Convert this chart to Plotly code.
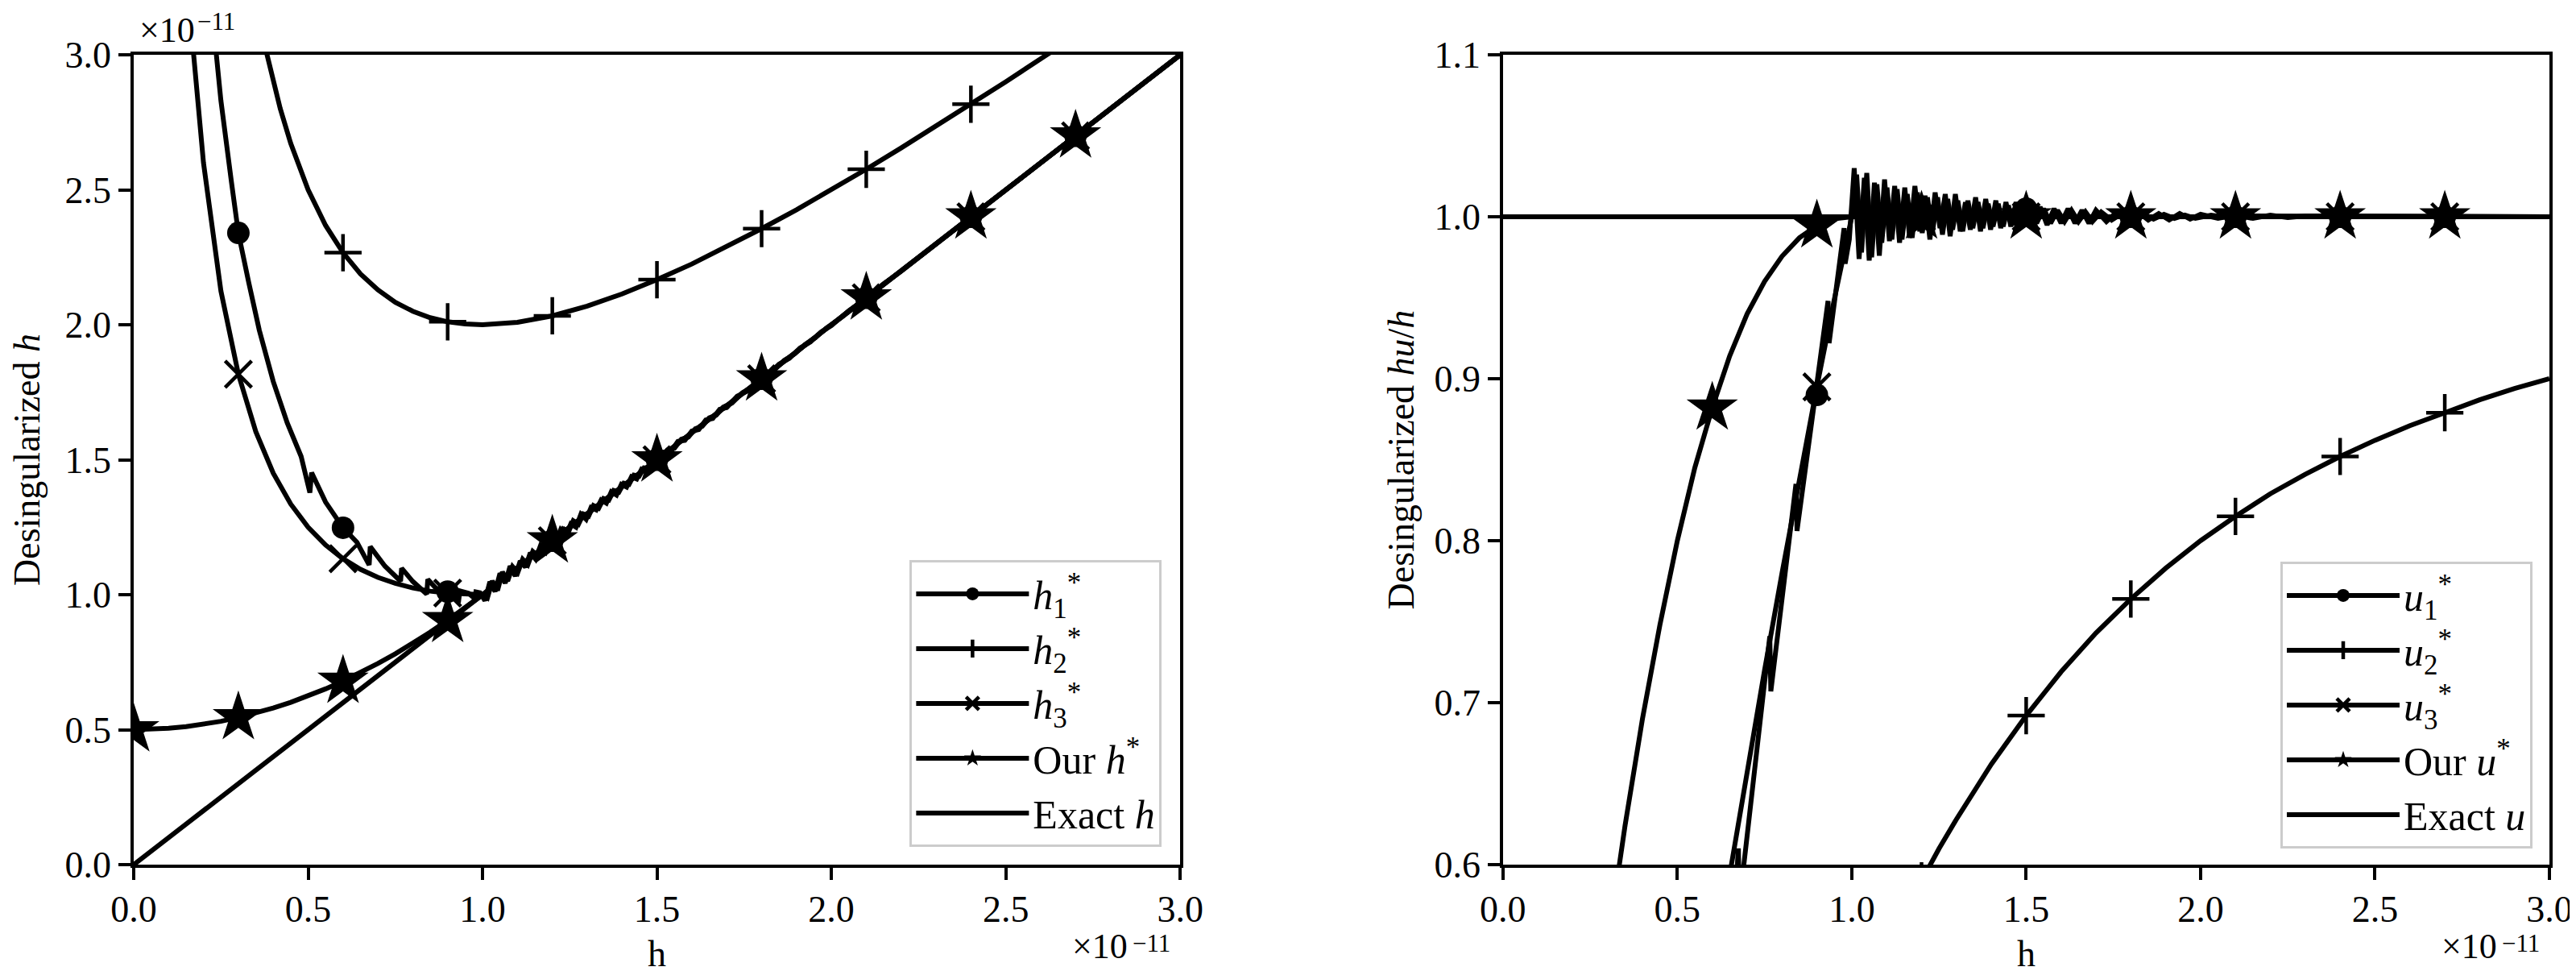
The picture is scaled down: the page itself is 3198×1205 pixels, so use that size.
import plotly.graph_objects as go

# ---------------- data (h in units of 1e-11) ----------------
# Left panel: desingularized h
exact_x = [0.0, 3.0]
exact_h = [0.0, 3.0]

our_h_x = [0.0, 0.05, 0.1, 0.15, 0.2, 0.25, 0.3, 0.35, 0.4, 0.45, 0.5, 0.55, 0.6, 0.65,
           0.7, 0.75, 0.8, 0.85, 0.9, 0.95, 1.0, 3.0]
our_h = [0.5, 0.501, 0.505, 0.511, 0.52, 0.531, 0.545, 0.561, 0.58, 0.601, 0.625, 0.651, 0.68,
         0.711, 0.745, 0.781, 0.82, 0.861, 0.905, 0.951, 1.0, 3.0]

h2_x = [0.35, 0.38, 0.42, 0.45, 0.5, 0.55, 0.6, 0.65, 0.7, 0.75, 0.8, 0.85, 0.9, 0.95, 1.0,
        1.1, 1.2, 1.3, 1.4, 1.5, 1.6, 1.7, 1.8, 1.9, 2.0, 2.1, 2.2, 2.3, 2.4, 2.5, 2.6, 2.7]
h2 = [3.207, 3.012, 2.801, 2.672, 2.5, 2.368, 2.267, 2.188, 2.129, 2.083, 2.05, 2.026, 2.011,
      2.003, 2.0, 2.009, 2.033, 2.069, 2.114, 2.167, 2.225, 2.288, 2.356, 2.426, 2.5, 2.576,
      2.655, 2.735, 2.817, 2.9, 2.985, 3.07]

h1_x = [0.22, 0.25, 0.28, 0.30, 0.33, 0.36, 0.40, 0.44, 0.48, 0.505, 0.51, 0.55, 0.60, 0.64,
        0.675, 0.678, 0.72, 0.765, 0.768, 0.80, 0.84, 0.843, 0.87, 0.90, 0.932, 0.935, 0.96,
        0.978, 0.981, 0.993,
        1.007, 1.021, 1.036, 1.050, 1.065, 1.079, 1.094, 1.108, 1.123, 1.137, 1.152, 1.166,
        1.181, 1.195, 1.210, 1.224, 1.239, 1.253, 1.268, 1.282, 1.297, 1.311, 1.326, 1.340,
        1.355, 1.369, 1.384, 1.398, 1.413, 1.427, 1.442, 1.456, 1.471, 1.485, 1.50, 1.52,
        1.54, 1.56, 1.58, 1.60, 1.62, 1.64, 1.66, 1.68, 1.70, 1.73, 1.76, 1.79, 1.82, 1.85,
        1.88, 1.91, 1.94, 1.97, 2.00, 2.05, 2.10, 2.15, 2.20, 2.25, 2.30, 3.0]
h1 = [3.22, 2.83, 2.53, 2.34, 2.155, 1.98, 1.79, 1.637, 1.512, 1.378, 1.452, 1.343, 1.248,
      1.194, 1.11, 1.178, 1.106, 1.05, 1.098, 1.049, 1.002, 1.057, 1.019, 1.011, 0.983, 1.014,
      1.005, 0.985, 1.010, 1.007,
      0.978, 1.048, 1.012, 1.079, 1.043, 1.106, 1.069, 1.125, 1.102, 1.155, 1.132, 1.181,
      1.159, 1.206, 1.194, 1.241, 1.221, 1.262, 1.250, 1.298, 1.279, 1.323, 1.314, 1.351,
      1.339, 1.381, 1.369, 1.409, 1.399, 1.437, 1.429, 1.465, 1.458, 1.494, 1.491, 1.528,
      1.531, 1.568, 1.572, 1.606, 1.612, 1.647, 1.653, 1.687, 1.693, 1.735, 1.755, 1.795,
      1.815, 1.854, 1.876, 1.914, 1.936, 1.973, 1.997, 2.052, 2.098, 2.152, 2.198, 2.251,
      2.299, 3.0]

h3_x = [0.15, 0.17, 0.2, 0.25, 0.3, 0.35, 0.4, 0.45, 0.5, 0.55, 0.6, 0.65, 0.7, 0.75, 0.8,
        0.85, 0.9, 0.95, 1.0,
        1.014, 1.028, 1.043, 1.057, 1.072, 1.086, 1.101, 1.115, 1.130, 1.144, 1.159, 1.173,
        1.188, 1.202, 1.217, 1.231, 1.246, 1.260, 1.275, 1.289, 1.304, 1.318, 1.333, 1.347,
        1.362, 1.376, 1.391, 1.405, 1.420, 1.434, 1.449, 1.463, 1.478, 1.492, 1.51, 1.53,
        1.55, 1.57, 1.59, 1.61, 1.63, 1.65, 1.67, 1.69, 1.715, 1.745, 1.775, 1.805, 1.835,
        1.865, 1.895, 1.925, 1.955, 1.985, 2.03, 2.08, 2.13, 3.0]
h3 = [3.408, 3.026, 2.6, 2.125, 1.817, 1.604, 1.45, 1.336, 1.25, 1.184, 1.133, 1.094, 1.064,
      1.042, 1.025, 1.013, 1.006, 1.001, 1.0,
      0.988, 1.051, 1.016, 1.084, 1.051, 1.104, 1.082, 1.131, 1.111, 1.160, 1.143, 1.188,
      1.170, 1.214, 1.203, 1.243, 1.231, 1.274, 1.261, 1.299, 1.291, 1.330, 1.320, 1.356,
      1.350, 1.386, 1.380, 1.413, 1.409, 1.443, 1.439, 1.470, 1.469, 1.500, 1.502, 1.536,
      1.542, 1.576, 1.584, 1.615, 1.624, 1.655, 1.665, 1.695, 1.710, 1.748, 1.771, 1.809,
      1.831, 1.868, 1.892, 1.927, 1.953, 1.987, 2.028, 2.081, 2.129, 3.0]

# marker positions (every 0.3)
mark_x = [0.0, 0.3, 0.6, 0.9, 1.2, 1.5, 1.8, 2.1, 2.4, 2.7]
mark_x1 = [0.3, 0.6, 0.9, 1.2, 1.5, 1.8, 2.1, 2.4, 2.7]
h1_mark = [2.34, 1.248, 1.011, 1.2, 1.5, 1.8, 2.1, 2.4, 2.7]
h2_mark = [3.633, 2.267, 2.011, 2.033, 2.167, 2.356, 2.576, 2.817, 3.07]
h3_mark = [1.817, 1.133, 1.006, 1.2, 1.5, 1.8, 2.1, 2.4, 2.7]
our_h_mark = [0.5, 0.545, 0.68, 0.905, 1.2, 1.5, 1.8, 2.1, 2.4, 2.7]

# Right panel: desingularized hu/h
exact_u = [1.0, 1.0]

our_u_x = [0.3, 0.33, 0.35, 0.4, 0.45, 0.5, 0.55, 0.6, 0.65, 0.7, 0.75, 0.8, 0.85, 0.9, 0.95,
           1.0, 3.0]
our_u = [0.55, 0.595, 0.624, 0.69, 0.748, 0.8, 0.845, 0.882, 0.914, 0.94, 0.96, 0.9756,
         0.987, 0.9945, 0.9987, 1.0, 1.0]

u2_x = [1.2, 1.25, 1.3, 1.4, 1.5, 1.6, 1.7, 1.8, 1.9, 2.0, 2.1, 2.2, 2.3, 2.4, 2.5, 2.6, 2.7,
        2.8, 2.9, 3.0]
u2 = [0.59, 0.6098, 0.628, 0.662, 0.692, 0.719, 0.743, 0.764, 0.783, 0.8, 0.815, 0.829, 0.841,
      0.852, 0.862, 0.871, 0.879, 0.887, 0.894, 0.9]

u1_x = [0.66, 0.675, 0.678, 0.70, 0.735, 0.765, 0.768, 0.80, 0.84, 0.843, 0.88, 0.932, 0.935,
        0.96, 0.978, 0.981, 0.993,
        1.007, 1.021, 1.036, 1.050, 1.065, 1.079, 1.094, 1.108, 1.123, 1.137, 1.152, 1.166,
        1.181, 1.195, 1.210, 1.224, 1.239, 1.253, 1.268, 1.282, 1.297, 1.311, 1.326, 1.340,
        1.355, 1.369, 1.384, 1.398, 1.413, 1.427, 1.442, 1.456, 1.471, 1.485, 1.50, 1.52,
        1.54, 1.56, 1.58, 1.60, 1.62, 1.64, 1.66, 1.68, 1.70, 1.73, 1.76, 1.79, 1.82, 1.85,
        1.88, 1.91, 1.94, 1.97, 2.00, 2.05, 2.10, 2.15, 2.20, 2.25, 2.30, 3.0]
u1 = [0.560, 0.61, 0.576, 0.618, 0.684, 0.741, 0.707, 0.764, 0.835, 0.806, 0.865, 0.948,
      0.922, 0.963, 0.993, 0.971, 0.986,
      1.030, 0.974, 1.024, 0.973, 1.021, 0.976, 1.023, 0.985, 1.019, 0.984, 1.018, 0.987,
      1.019, 0.991, 1.013, 0.986, 1.015, 0.993, 1.014, 0.988, 1.014, 0.991, 1.009, 0.992,
      1.012, 0.991, 1.011, 0.992, 1.010, 0.993, 1.009, 0.994, 1.009, 0.994, 1.006, 0.995,
      1.006, 0.995, 1.005, 0.996, 1.005, 0.996, 1.004, 0.996, 1.004, 0.997, 1.003, 0.997,
      1.003, 0.998, 1.002, 0.998, 1.002, 0.9985, 1.0015, 0.999, 1.001, 0.999, 1.001,
      0.9995, 1.0005, 1.0]

u3_x = [0.64, 0.66, 0.70, 0.75, 0.80, 0.85, 0.90, 0.95, 0.98, 1.0,
        1.014, 1.028, 1.043, 1.057, 1.072, 1.086, 1.101, 1.115, 1.130, 1.144, 1.159, 1.173,
        1.188, 1.202, 1.217, 1.231, 1.246, 1.260, 1.275, 1.289, 1.304, 1.318, 1.333, 1.347,
        1.362, 1.376, 1.391, 1.405, 1.420, 1.434, 1.449, 1.463, 1.478, 1.492, 1.51, 1.53,
        1.55, 1.57, 1.59, 1.61, 1.63, 1.65, 1.67, 1.69, 1.715, 1.745, 1.775, 1.805, 1.835,
        1.865, 1.895, 1.925, 1.955, 1.985, 2.03, 2.08, 2.13, 3.0]
u3 = [0.581, 0.607, 0.658, 0.72, 0.78, 0.839, 0.895, 0.949, 0.9798, 1.0,
      1.026, 0.978, 1.027, 0.975, 1.020, 0.984, 1.018, 0.986, 1.017, 0.986, 1.014, 0.987,
      1.015, 0.990, 1.012, 0.990, 1.012, 0.989, 1.011, 0.992, 1.010, 0.991, 1.010, 0.993,
      1.009, 0.993, 1.008, 0.994, 1.008, 0.994, 1.007, 0.995, 1.006, 0.995, 1.005, 0.996,
      1.005, 0.996, 1.004, 0.997, 1.004, 0.997, 1.003, 0.997, 1.003, 0.998, 1.002, 0.998,
      1.002, 0.9985, 1.0015, 0.999, 1.001, 0.999, 1.001, 0.9995, 1.0005, 1.0]

u1_mark = [0.127, 0.479, 0.890, 1.0, 1.005, 1.0, 1.0, 1.0, 1.0]
u2_mark = [0.083, 0.265, 0.448, 0.590, 0.692, 0.764, 0.815, 0.852, 0.879]
u3_mark = [0.165, 0.529, 0.895, 1.0, 1.0, 1.0, 1.0, 1.0, 1.0]
our_u_mark = [0.0, 0.550, 0.882, 0.9945, 1.0, 1.0, 1.0, 1.0, 1.0, 1.0]

left_names = ["<i>h</i><sub>1</sub><sup>*</sup>", "<i>h</i><sub>2</sub><sup>*</sup>",
              "<i>h</i><sub>3</sub><sup>*</sup>", "Our <i>h</i><sup>*</sup>", "Exact <i>h</i>"]
right_names = ["<i>u</i><sub>1</sub><sup>*</sup>", "<i>u</i><sub>2</sub><sup>*</sup>",
               "<i>u</i><sub>3</sub><sup>*</sup>", "Our <i>u</i><sup>*</sup>", "Exact <i>u</i>"]

x_ticks = [0.0, 0.5, 1.0, 1.5, 2.0, 2.5, 3.0]
left_yticks = [0.0, 0.5, 1.0, 1.5, 2.0, 2.5, 3.0]
right_yticks = [0.6, 0.7, 0.8, 0.9, 1.0, 1.1]
offset_base = "×10"
offset_exp = "−11"

# ---------------- styling ----------------
FONT = "Liberation Serif"
FS = 46
LFS = 50
AFS = 44
EFS = 31
LW = 6
BLACK = "black"
MARKERS = [
    dict(symbol="circle", size=28, color=BLACK),
    dict(symbol="cross-thin", size=33, color=BLACK, line=dict(width=4.5, color=BLACK)),
    dict(symbol="x-thin", size=33, color=BLACK, line=dict(width=4.5, color=BLACK)),
    dict(symbol="star", size=48, color=BLACK, line=dict(width=0)),
    None,
]

fig = go.Figure()


def add_panel(series, names, xa, ya, legend):
    for (lx, ly, mx, my), name, mk in zip(series, names, MARKERS):
        fig.add_trace(go.Scatter(x=lx, y=ly, mode="lines", line=dict(color=BLACK, width=LW),
                                 xaxis=xa, yaxis=ya, showlegend=False, hoverinfo="skip"))
        if mk is not None:
            fig.add_trace(go.Scatter(x=mx, y=my, mode="markers", marker=mk,
                                     xaxis=xa, yaxis=ya, showlegend=False, hoverinfo="skip"))
    for name, mk in zip(names, MARKERS):
        if mk is None:
            fig.add_trace(go.Scatter(x=[None], y=[None], mode="lines", name=name,
                                     line=dict(color=BLACK, width=LW), xaxis=xa, yaxis=ya,
                                     legend=legend))
        else:
            fig.add_trace(go.Scatter(x=[None], y=[None], mode="lines+markers", name=name,
                                     line=dict(color=BLACK, width=LW), marker=mk,
                                     xaxis=xa, yaxis=ya, legend=legend))


add_panel([
    (h1_x, h1, mark_x1, h1_mark),
    (h2_x, h2, mark_x1, h2_mark),
    (h3_x, h3, mark_x1, h3_mark),
    (our_h_x, our_h, mark_x, our_h_mark),
    (exact_x, exact_h, None, None),
], left_names, "x", "y", "legend")

add_panel([
    (u1_x, u1, mark_x1, u1_mark),
    (u2_x, u2, mark_x1, u2_mark),
    (u3_x, u3, mark_x1, u3_mark),
    (our_u_x, our_u, mark_x, our_u_mark),
    (exact_x, exact_u, None, None),
], right_names, "x2", "y2", "legend2")

axis_common = dict(showline=True, linecolor=BLACK, linewidth=3.5, mirror=True,
                   ticks="outside", ticklen=15, tickwidth=3.5, tickcolor=BLACK,
                   showgrid=False, zeroline=False, tickformat=".1f",
                   tickfont=dict(family=FONT, size=FS, color=BLACK))

legend_common = dict(bgcolor="white", bordercolor="#cccccc", borderwidth=3,
                     font=dict(family=FONT, size=LFS, color=BLACK), itemwidth=140,
                     yanchor="bottom", xanchor="right", tracegroupgap=0)

title_font = dict(family=FONT, size=FS, color=BLACK)
base_font = dict(family=FONT, size=AFS, color=BLACK)
exp_font = dict(family=FONT, size=EFS, color=BLACK)

L_END = 0.4332          # right end of left panel (paper)
SHIFT = 0.0035          # keep the offset label clear of the last tick label
EXP_W = 0.0175          # width of the exponent text (paper)
BASE_W = 0.0240         # width of the "×10" text (paper)


def offset_annotations(x_right=None, x_left=None, y_base=0.0, y_exp=0.0):
    if x_left is not None:
        return [
            dict(text=offset_base, xref="paper", yref="paper", x=x_left, y=y_base,
                 xanchor="left", yanchor="bottom", showarrow=False, font=base_font),
            dict(text=offset_exp, xref="paper", yref="paper", x=x_left + BASE_W, y=y_exp,
                 xanchor="left", yanchor="bottom", showarrow=False, font=exp_font),
        ]
    xr = x_right - SHIFT
    return [
        dict(text=offset_base, xref="paper", yref="paper", x=xr - EXP_W, y=y_base,
             xanchor="right", yanchor="bottom", showarrow=False, font=base_font),
        dict(text=offset_exp, xref="paper", yref="paper", x=xr, y=y_exp,
             xanchor="right", yanchor="bottom", showarrow=False, font=exp_font),
    ]


annotations = (offset_annotations(x_left=0.0017, y_base=1.0044, y_exp=1.0217)
               + offset_annotations(x_right=L_END, y_base=-0.127, y_exp=-0.1163)
               + offset_annotations(x_right=1.0, y_base=-0.127, y_exp=-0.1163))

fig.update_layout(
    width=3198, height=1205,
    margin=dict(l=158, r=30, t=60, b=130),
    paper_bgcolor="white", plot_bgcolor="white",
    font=dict(family=FONT, size=FS, color=BLACK),
    xaxis=dict(domain=[0.0, L_END], range=[0, 3], tickvals=x_ticks, ticklabelstandoff=-3,
               title=dict(text="h", standoff=15, font=title_font), **axis_common),
    yaxis=dict(domain=[0, 1], range=[0, 3], tickvals=left_yticks,
               title=dict(text="Desingularized <i>h</i>", standoff=24, font=title_font),
               **axis_common),
    xaxis2=dict(domain=[0.5668, 1.0], range=[0, 3], tickvals=x_ticks, anchor="y2",
                ticklabelstandoff=-3,
                title=dict(text="h", standoff=15, font=title_font), **axis_common),
    yaxis2=dict(domain=[0, 1], range=[0.6, 1.1], tickvals=right_yticks, anchor="x2",
                title=dict(text="Desingularized <i>hu</i>/<i>h</i>", standoff=11,
                           font=title_font), **axis_common),
    legend=dict(x=0.4256, y=0.022, **legend_common),
    legend2=dict(x=0.993, y=0.020, **legend_common),
    annotations=annotations,
)

fig.write_html("out.html")
